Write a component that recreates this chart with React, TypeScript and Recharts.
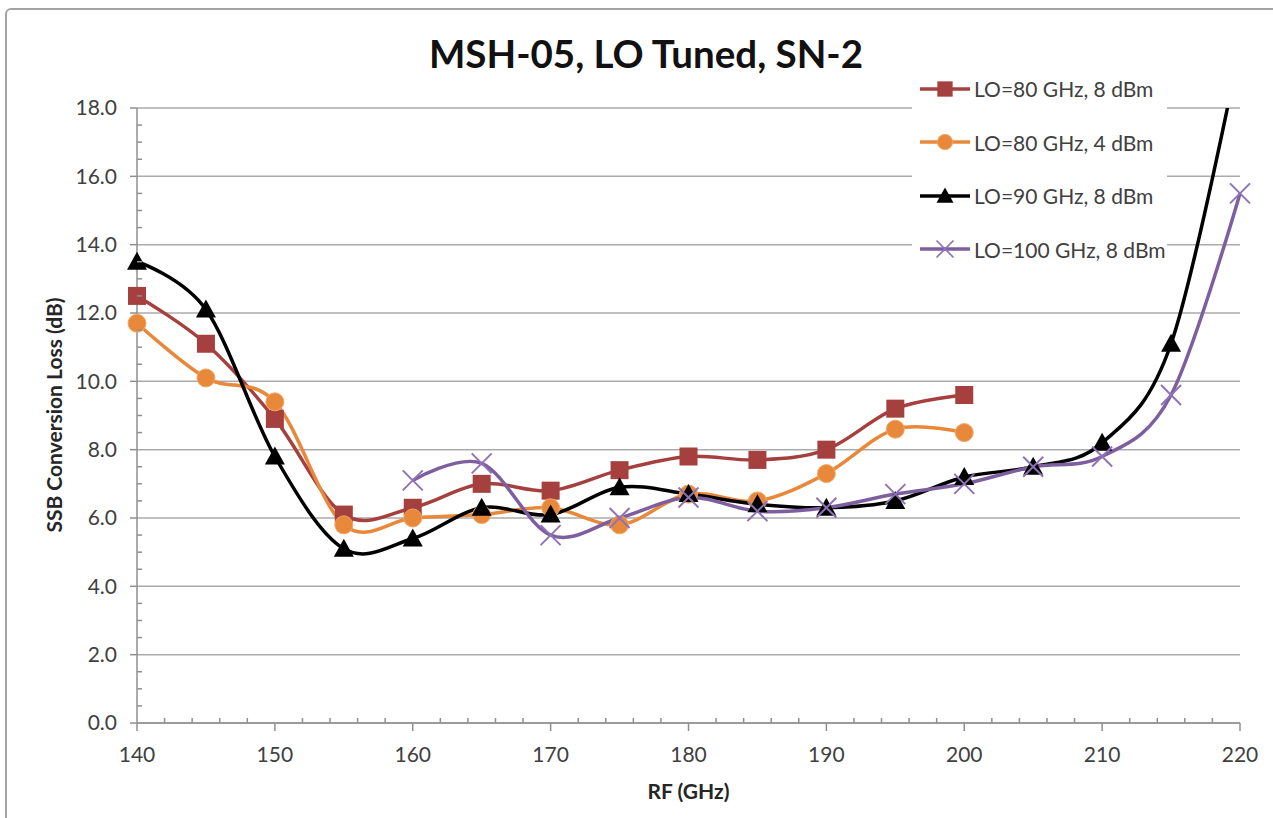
import { CartesianGrid, Label, Legend, Line, LineChart, XAxis, YAxis } from 'recharts';

const rfGHz = [140, 145, 150, 155, 160, 165, 170, 175, 180, 185, 190, 195, 200, 205, 210, 215, 220];
const lo80at8 = [12.5, 11.1, 8.9, 6.1, 6.3, 7.0, 6.8, 7.4, 7.8, 7.7, 8.0, 9.2, 9.6, null, null, null, null];
const lo80at4 = [11.7, 10.1, 9.4, 5.8, 6.0, 6.1, 6.3, 5.8, 6.7, 6.5, 7.3, 8.6, 8.5, null, null, null, null];
const lo90at8 = [13.5, 12.1, 7.8, 5.1, 5.4, 6.3, 6.1, 6.9, 6.7, 6.4, 6.3, 6.5, 7.2, 7.5, 8.2, 11.1, 19.8];
const lo100at8 = [null, null, null, null, 7.1, 7.6, 5.5, 6.0, 6.6, 6.2, 6.3, 6.7, 7.0, 7.5, 7.8, 9.6, 15.5];

const xMajor = [140, 150, 160, 170, 180, 190, 200, 210, 220];
const xMinorStep = 2;
const yMajor = [0, 2, 4, 6, 8, 10, 12, 14, 16, 18];
const yMinorStep = 0.5;
const yMax = yMajor[yMajor.length - 1];

const xTicks = xMajor.flatMap((v, i) =>
  i === xMajor.length - 1 ? [v] : [v, v + xMinorStep, v + 2 * xMinorStep, v + 3 * xMinorStep, v + 4 * xMinorStep]
);
const yTicks = yMajor.flatMap((v, i) =>
  i === yMajor.length - 1 ? [v] : [v, v + yMinorStep, v + 2 * yMinorStep, v + 3 * yMinorStep]
);

const data = rfGHz.map((rf, i) => ({
  rf,
  a: lo80at8[i],
  b: lo80at4[i],
  c: lo90at8[i],
  d: lo100at8[i],
}));

const FONT = "Lato, 'Open Sans', sans-serif";
const TEXT = '#404040';
const AXIS = '#8f8f8f';
const GRID = '#ababab';

const RED = '#A5403F';
const ORANGE = '#E8883A';
const BLACK = '#000000';
const PURPLE = '#7D5FA0';

// Excel-like smoothed line: cardinal spline (tension 0) through every point
class SmoothCurve {
  _context: any;
  _line = NaN;
  _point = 0;
  _x0 = NaN; _x1 = NaN; _x2 = NaN;
  _y0 = NaN; _y1 = NaN; _y2 = NaN;
  _k = 1 / 6;
  constructor(context: any) {
    this._context = context;
  }
  _bez(x: number, y: number) {
    this._context.bezierCurveTo(
      this._x1 + this._k * (this._x2 - this._x0),
      this._y1 + this._k * (this._y2 - this._y0),
      this._x2 + this._k * (this._x1 - x),
      this._y2 + this._k * (this._y1 - y),
      this._x2,
      this._y2
    );
  }
  areaStart() { this._line = 0; }
  areaEnd() { this._line = NaN; }
  lineStart() {
    this._x0 = this._x1 = this._x2 = this._y0 = this._y1 = this._y2 = NaN;
    this._point = 0;
  }
  lineEnd() {
    if (this._point === 2) this._context.lineTo(this._x2, this._y2);
    else if (this._point === 3) this._bez(this._x1, this._y1);
    if (this._line || (this._line !== 0 && this._point === 1)) this._context.closePath();
    this._line = 1 - this._line;
  }
  point(x: number, y: number) {
    x = +x;
    y = +y;
    if (this._point === 0) {
      this._point = 1;
      if (this._line) this._context.lineTo(x, y);
      else this._context.moveTo(x, y);
    } else if (this._point === 1) {
      this._point = 2;
      this._x1 = x;
      this._y1 = y;
    } else {
      this._point = 3;
      this._bez(x, y);
    }
    this._x0 = this._x1; this._x1 = this._x2; this._x2 = x;
    this._y0 = this._y1; this._y1 = this._y2; this._y2 = y;
  }
}
const excelSmooth: any = (context: any) => new SmoothCurve(context);

function Marker({ kind, cx, cy }: { kind: string; cx: number; cy: number }) {
  if (kind === 'square') return <rect x={cx - 9} y={cy - 9} width={18} height={18} fill={RED} />;
  if (kind === 'circle') return <circle cx={cx} cy={cy} r={9} fill={ORANGE} stroke="#F2A865" strokeWidth={1} />;
  if (kind === 'triangle')
    return <polygon points={`${cx},${cy - 10} ${cx + 10},${cy + 8} ${cx - 10},${cy + 8}`} fill={BLACK} />;
  return (
    <g stroke="#8E72B5" strokeWidth={2}>
      <line x1={cx - 10} y1={cy - 10} x2={cx + 10} y2={cy + 10} />
      <line x1={cx - 10} y1={cy + 10} x2={cx + 10} y2={cy - 10} />
    </g>
  );
}

// markers are not clipped at the plot edges (css below), so skip the ones above the axis max
const makeDot = (kind: string) => (props: any) => {
  const { cx, cy, index, value } = props;
  if (value == null || cx == null || cy == null || value > yMax) return <g key={`${kind}-${index}`} />;
  return (
    <g key={`${kind}-${index}`}>
      <Marker kind={kind} cx={cx} cy={cy} />
    </g>
  );
};

const series = [
  { key: 'a', name: 'LO=80 GHz, 8 dBm', color: RED, kind: 'square' },
  { key: 'b', name: 'LO=80 GHz, 4 dBm', color: ORANGE, kind: 'circle' },
  { key: 'c', name: 'LO=90 GHz, 8 dBm', color: BLACK, kind: 'triangle' },
  { key: 'd', name: 'LO=100 GHz, 8 dBm', color: PURPLE, kind: 'cross' },
];

const YTick = ({ x, y, payload }: any) => {
  const major = payload.value % 2 === 0;
  return (
    <g>
      {major ? (
        <line x1={x - 7} x2={x} y1={y} y2={y} stroke={AXIS} strokeWidth={1.5} />
      ) : (
        <line x1={x} x2={x + 5} y1={y} y2={y} stroke={AXIS} strokeWidth={1.5} />
      )}
      {major && (
        <text x={x - 20} y={y} dy="0.35em" textAnchor="end" fill={TEXT} fontSize={21} fontFamily={FONT}>
          {payload.value.toFixed(1)}
        </text>
      )}
    </g>
  );
};

const XTick = ({ x, y, payload }: any) => {
  const major = payload.value % 10 === 0;
  return (
    <g>
      {major ? (
        <line x1={x} x2={x} y1={y} y2={y + 8} stroke={AXIS} strokeWidth={1.5} />
      ) : (
        <line x1={x} x2={x} y1={y - 5} y2={y} stroke={AXIS} strokeWidth={1.5} />
      )}
      {major && (
        <text x={x} y={y + 32} dy="0.35em" textAnchor="middle" fill={TEXT} fontSize={21} fontFamily={FONT}>
          {payload.value}
        </text>
      )}
    </g>
  );
};

const renderLegend = () => (
  <div>
    {series.map((s) => (
      <div key={s.key} style={{ display: 'flex', alignItems: 'center', height: 53.5 }}>
        <svg width={58} height={24} style={{ marginLeft: 4 }}>
          <line x1={4} x2={54} y1={12} y2={12} stroke={s.color} strokeWidth={3.5} />
          <g transform="translate(29,12) scale(0.85) translate(-29,-12)">
            <Marker kind={s.kind} cx={29} cy={12} />
          </g>
        </svg>
        <span style={{ fontFamily: FONT, fontSize: 21, color: TEXT, whiteSpace: 'nowrap' }}>{s.name}</span>
      </div>
    ))}
  </div>
);

export default function App() {
  return (
    <div
      style={{
        position: 'absolute',
        left: 0,
        top: 0,
        width: 1273,
        height: 818,
        overflow: 'hidden',
        background: '#fff',
        fontFamily: FONT,
      }}
    >
      <style>{'.recharts-line-dots{clip-path:none}'}</style>
      <div
        style={{
          position: 'absolute',
          left: 5,
          top: 8,
          width: 1300,
          height: 900,
          border: '2px solid #a3a3a3',
          borderRadius: 6,
        }}
      />
      <div
        style={{
          position: 'absolute',
          left: 346,
          top: 29,
          width: 600,
          textAlign: 'center',
          fontSize: 38.5,
          fontWeight: 700,
          lineHeight: '48px',
          color: '#111',
          zIndex: 2,
        }}
      >
        MSH-05, LO Tuned, SN-2
      </div>
      <LineChart
        width={1273}
        height={818}
        data={data}
        margin={{ top: 108, right: 33, bottom: 15, left: 37 }}
      >
        <CartesianGrid horizontal vertical={false} horizontalValues={yMajor} stroke={GRID} strokeWidth={1.5} />
        <XAxis
          dataKey="rf"
          type="number"
          domain={[140, 220]}
          ticks={xTicks}
          interval={0}
          tickSize={0}
          tickMargin={0}
          tickLine={false}
          tick={<XTick />}
          axisLine={{ stroke: AXIS, strokeWidth: 1.5 }}
          height={80}
        >
          <Label
            value="RF (GHz)"
            position="insideBottom"
            offset={4}
            style={{ fontFamily: FONT, fontSize: 21, fontWeight: 700, fill: '#262626' }}
          />
        </XAxis>
        <YAxis
          type="number"
          domain={[0, 18]}
          ticks={yTicks}
          interval={0}
          tickSize={0}
          tickMargin={0}
          tickLine={false}
          tick={<YTick />}
          axisLine={{ stroke: AXIS, strokeWidth: 1.5 }}
          width={100}
          allowDataOverflow
        >
          <Label
            content={() => (
              <text
                x={53}
                y={415}
                transform="rotate(-90 53 415)"
                textAnchor="middle"
                dominantBaseline="central"
                fontFamily={FONT}
                fontSize={21}
                fontWeight={700}
                fill="#262626"
              >
                SSB Conversion Loss (dB)
              </text>
            )}
          />
        </YAxis>
        <Legend
          layout="vertical"
          align="center"
          verticalAlign="middle"
          content={renderLegend}
          wrapperStyle={{ left: 912, top: 62, width: 255, height: 214, background: '#fff' }}
        />
        {series.map((s) => (
          <Line
            key={s.key}
            dataKey={s.key}
            name={s.name}
            type={excelSmooth}
            stroke={s.color}
            strokeWidth={3.5}
            dot={makeDot(s.kind)}
            activeDot={false}
            isAnimationActive={false}
          />
        ))}
      </LineChart>
    </div>
  );
}
